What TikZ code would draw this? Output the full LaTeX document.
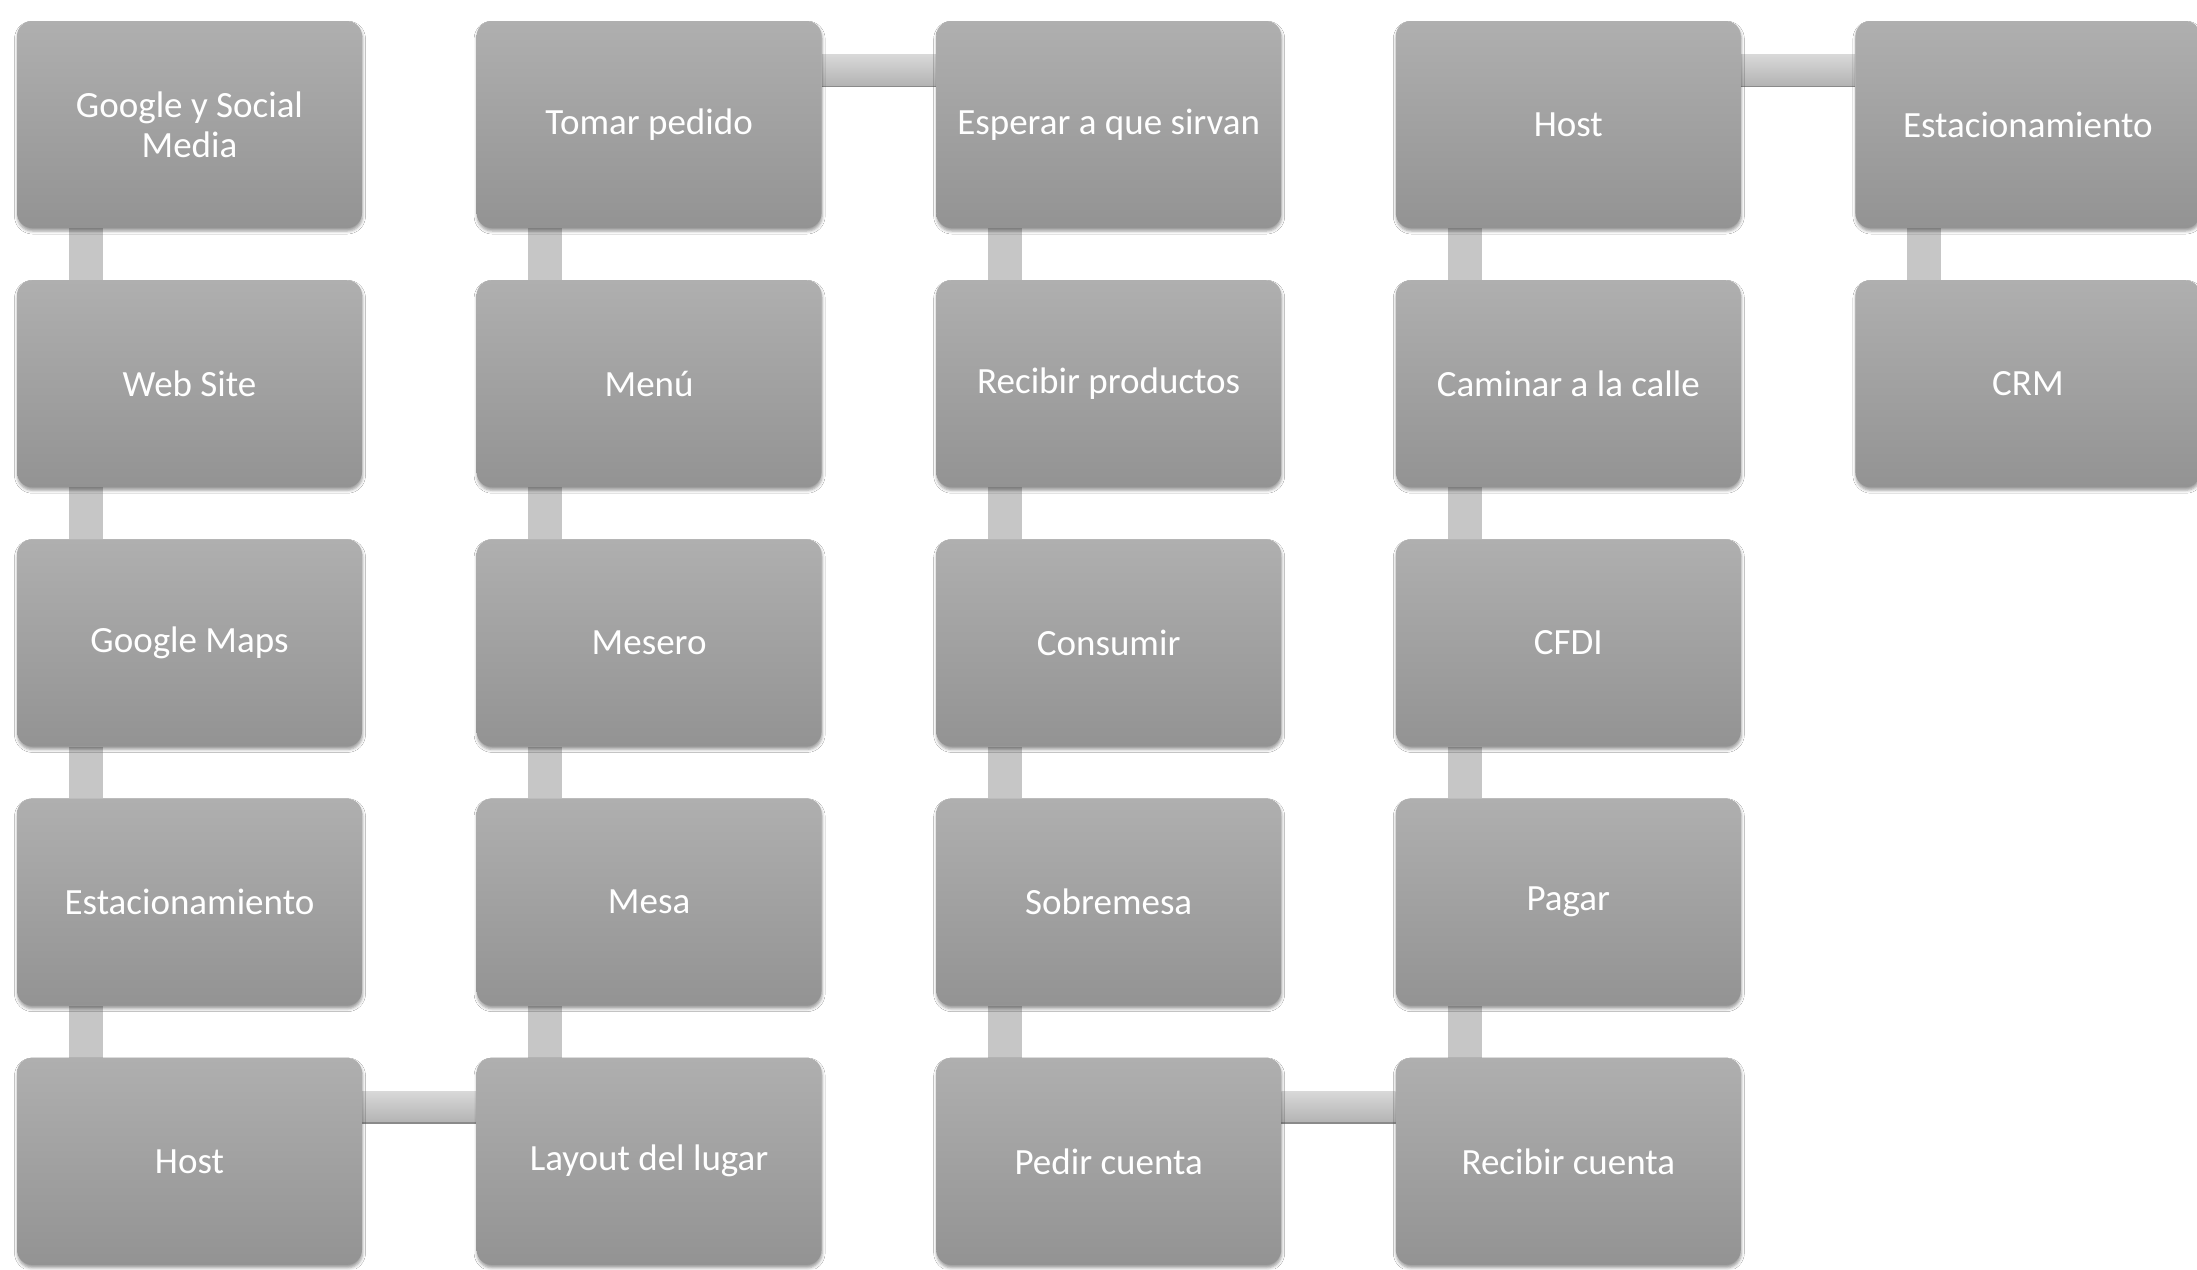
\documentclass[tikz,border=0pt]{standalone}
\usepackage{fontspec}
\setmainfont{Carlito}
\usetikzlibrary{shadows.blur,backgrounds}
\definecolor{boxtop}{HTML}{AFAFAF}
\definecolor{boxbot}{HTML}{939393}
\definecolor{vcol}{HTML}{C6C6C6}
\definecolor{htop}{HTML}{D8D8D8}
\definecolor{hbot}{HTML}{B2B2B2}
\definecolor{hline}{HTML}{8A8A8A}
\begin{document}
\begin{tikzpicture}[x=1pt,y=-1pt,
 box/.style={rectangle, rounded corners=15pt, minimum width=345pt, minimum height=207pt,
   inner sep=0pt, top color=boxtop, bottom color=boxbot, text=white, align=center,
   font=\fontsize{37}{40}\selectfont,
   blur shadow={shadow xshift=0.5pt, shadow yshift=-3pt, shadow blur radius=3pt, shadow opacity=40}},
 vconn/.style={fill=vcol},
 hconn/.style={top color=htop, bottom color=hbot},
 hedge/.style={draw=hline, line width=1.5pt}]
\useasboundingbox (0,0) rectangle (2197,1269);
% column 1
\node[box] (a1) at (189.5,124.5) {Google y Social\\Media};
\node[box] (a2) at (189.5,383.7) {Web Site};
\node[box] (a3) at (189.5,642.9) {Google Maps};
\node[box] (a4) at (189.5,902.1) {Estacionamiento};
\node[box] (a5) at (189.5,1161.3) {Host};
% column 2
\node[box] (b1) at (649.1,124.5) {Tomar pedido};
\node[box] (b2) at (649.1,383.7) {Menú};
\node[box] (b3) at (649.1,642.9) {Mesero};
\node[box] (b4) at (649.1,902.1) {Mesa};
\node[box] (b5) at (649.1,1161.3) {Layout del lugar};
% column 3
\node[box] (c1) at (1108.7,124.5) {Esperar a que sirvan};
\node[box] (c2) at (1108.7,383.7) {Recibir productos};
\node[box] (c3) at (1108.7,642.9) {Consumir};
\node[box] (c4) at (1108.7,902.1) {Sobremesa};
\node[box] (c5) at (1108.7,1161.3) {Pedir cuenta};
% column 4
\node[box] (d1) at (1568.3,124.5) {Host};
\node[box] (d2) at (1568.3,383.7) {Caminar a la calle};
\node[box] (d3) at (1568.3,642.9) {CFDI};
\node[box] (d4) at (1568.3,902.1) {Pagar};
\node[box] (d5) at (1568.3,1161.3) {Recibir cuenta};
% column 5
\node[box] (e1) at (2027.9,124.5) {Estacionamiento};
\node[box] (e2) at (2027.9,383.7) {CRM};
\begin{pgfonlayer}{background}
\fill[white] (0,0) rectangle (2197,1269);
% vertical connectors
\foreach \p/\q in {a1/a2,a2/a3,a3/a4,a4/a5,b1/b2,b2/b3,b3/b4,b4/b5,c1/c2,c2/c3,c3/c4,c4/c5,d1/d2,d2/d3,d3/d4,d4/d5,e1/e2}
  \fill[vconn] ([xshift=52pt]\p.south west) rectangle ([xshift=86pt]\q.north west);
% horizontal connectors
\foreach \p/\q in {a5/b5,b1/c1,c5/d5,d1/e1}{
  \shade[hconn] ([yshift=-34pt]\p.north east) rectangle ([yshift=-66pt]\q.north west);
  \draw[hedge] ([yshift=-65.5pt]\p.north east) -- ([yshift=-65.5pt]\q.north west);
}
\end{pgfonlayer}
\end{tikzpicture}
\end{document}
